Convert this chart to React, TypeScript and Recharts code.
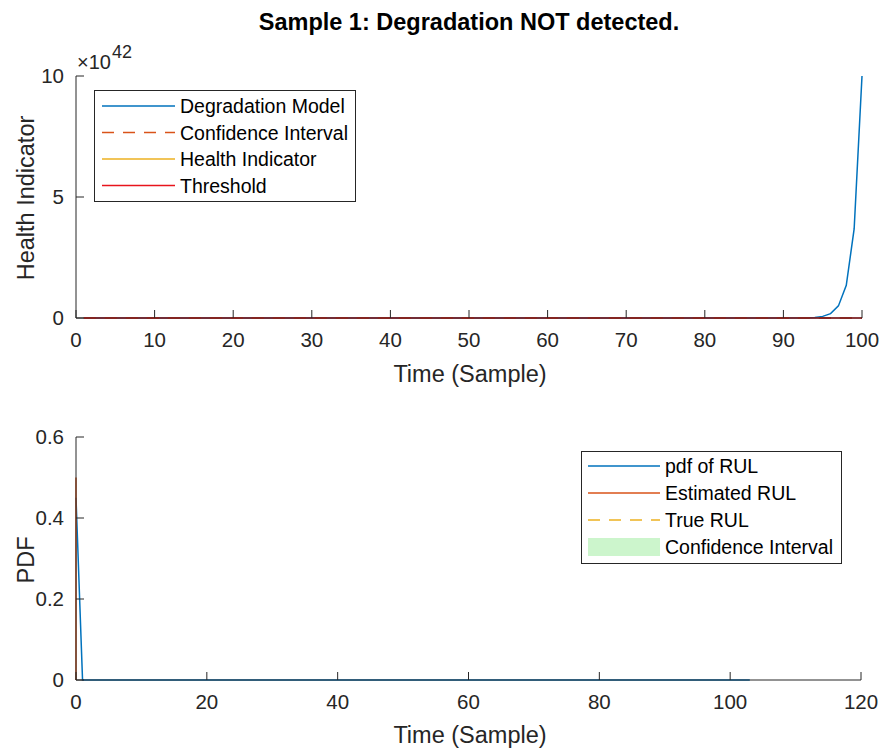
import React from "react";
import { LineChart, Line, XAxis, YAxis } from "recharts";

const titleText = "Sample 1: Degradation NOT detected.";

// top subplot, health indicator values in units of 1e42
const modelTime = [1, 90, 93, 94, 95, 96, 97, 98, 99, 100];
const modelValue = [0, 0, 0.01, 0.025, 0.067, 0.18, 0.5, 1.35, 3.68, 10];
const ciTime = [1, 100];
const ciUpper = [0, 0];
const ciLower = [0, 0];
const thresholdTime = [1, 100];
const thresholdValue = [0, 0];
const topXTicks = [0, 10, 20, 30, 40, 50, 60, 70, 80, 90, 100];
const topYTicks = [0, 5, 10];
const topLegend = ["Degradation Model", "Confidence Interval", "Health Indicator", "Threshold"];

// bottom subplot
const pdfTime = [0, 1, 103];
const pdfValue = [0.45, 0, 0];
const estRulTime = [0, 0];
const estRulValue = [0, 0.5];
const bottomXTicks = [0, 20, 40, 60, 80, 100, 120];
const bottomYTicks = [0, 0.2, 0.4, 0.6];
const bottomLegend = ["pdf of RUL", "Estimated RUL", "True RUL", "Confidence Interval"];

const BLUE = "#0072BD";
const ORANGE = "#D95319";
const YELLOW = "#EDB120";
const RED = "#E8141C";
const AXIS = "#262626";
const FONT = "'Liberation Sans', Arial, sans-serif";

const zip = (xs: number[], ys: number[]) => xs.map((x, i) => ({ x, y: ys[i] }));

const tickStyle = { fill: AXIS, fontSize: 20.5, fontFamily: FONT };

const App: React.FC = () => {
  return (
    <div style={{ position: "absolute", left: 0, top: 0, width: 886, height: 749, background: "#fff" }}>
      <div style={{ position: "absolute", left: 0, top: 0 }}>
        <LineChart width={886} height={400} margin={{ top: 76, right: 24, bottom: 81, left: 75 }}>
          <XAxis
            type="number"
            dataKey="x"
            domain={[0, 100]}
            ticks={topXTicks}
            height={1}
            tickSize={-8}
            tickMargin={22}
            stroke={AXIS}
            tick={tickStyle}
            interval={0}
          />
          <YAxis
            type="number"
            dataKey="y"
            domain={[0, 10]}
            ticks={topYTicks}
            width={1}
            tickSize={-8}
            tickMargin={20}
            stroke={AXIS}
            tick={tickStyle}
            interval={0}
          />
          <Line data={zip(modelTime, modelValue)} dataKey="y" stroke={BLUE} strokeWidth={1.5} dot={false} isAnimationActive={false} />
          <Line data={zip(ciTime, ciUpper)} dataKey="y" stroke={ORANGE} strokeWidth={1.5} strokeDasharray="12 9" dot={false} isAnimationActive={false} />
          <Line data={zip(ciTime, ciLower)} dataKey="y" stroke={ORANGE} strokeWidth={1.5} strokeDasharray="12 9" dot={false} isAnimationActive={false} />
          <Line data={zip(thresholdTime, thresholdValue)} dataKey="y" stroke={RED} strokeWidth={1.5} dot={false} isAnimationActive={false} />
        </LineChart>
      </div>
      <div style={{ position: "absolute", left: 0, top: 400 }}>
        <LineChart width={886} height={349} margin={{ top: 37, right: 25, bottom: 68, left: 75 }}>
          <XAxis
            type="number"
            dataKey="x"
            domain={[0, 120]}
            ticks={bottomXTicks}
            height={1}
            tickSize={-8}
            tickMargin={22}
            stroke={AXIS}
            tick={tickStyle}
            interval={0}
          />
          <YAxis
            type="number"
            dataKey="y"
            domain={[0, 0.6]}
            ticks={bottomYTicks}
            width={1}
            tickSize={-8}
            tickMargin={20}
            stroke={AXIS}
            tick={tickStyle}
            interval={0}
            tickFormatter={(v: number) => (v === 0 ? "0" : v.toFixed(1))}
          />
          <Line data={zip(pdfTime, pdfValue)} dataKey="y" stroke={BLUE} strokeWidth={1.5} dot={false} isAnimationActive={false} />
          <Line data={zip(estRulTime, estRulValue)} dataKey="y" stroke={ORANGE} strokeWidth={1.5} dot={false} isAnimationActive={false} />
        </LineChart>
      </div>
      <svg width={886} height={749} style={{ position: "absolute", left: 0, top: 0, pointerEvents: "none" }} fontFamily={FONT}>
        <text x={469} y={22} textAnchor="middle" dominantBaseline="central" fontSize={23.5} fontWeight="bold" fill="#000">
          {titleText}
        </text>
        <text x={77} y={69} fontSize={20} fill={AXIS}>×10</text>
        <text x={112} y={58} fontSize={18} fill={AXIS}>42</text>
        <text x={470} y={374} textAnchor="middle" dominantBaseline="central" fontSize={23.5} fill={AXIS}>Time (Sample)</text>
        <text x={470} y={735} textAnchor="middle" dominantBaseline="central" fontSize={23.5} fill={AXIS}>Time (Sample)</text>
        <text x={26} y={198} transform="rotate(-90, 26, 198)" textAnchor="middle" dominantBaseline="central" fontSize={23.5} fill={AXIS}>Health Indicator</text>
        <text x={26} y={560} transform="rotate(-90, 26, 560)" textAnchor="middle" dominantBaseline="central" fontSize={23.5} fill={AXIS}>PDF</text>

        {/* top legend */}
        <rect x={94.5} y={90.5} width={261} height={111} fill="#fff" stroke={AXIS} strokeWidth={1} />
        {topLegend.map((name, i) => {
          const y = 106 + i * 26.5;
          const color = [BLUE, ORANGE, YELLOW, RED][i];
          return (
            <g key={name}>
              <line x1={102} x2={175} y1={y} y2={y} stroke={color} strokeWidth={1.5} strokeDasharray={i === 1 ? "12 9" : undefined} />
              <text x={180} y={y} dominantBaseline="central" fontSize={19.5} fill="#000">{name}</text>
            </g>
          );
        })}

        {/* bottom legend */}
        <rect x={581.5} y={451.5} width={260} height={112} fill="#fff" stroke={AXIS} strokeWidth={1} />
        {bottomLegend.map((name, i) => {
          const y = 466 + i * 27;
          return (
            <g key={name}>
              {i === 3 ? (
                <rect x={588} y={y - 9} width={72} height={18} fill="#ccf5cc" />
              ) : (
                <line x1={588} x2={660} y1={y} y2={y} stroke={[BLUE, ORANGE, YELLOW][i]} strokeWidth={1.5} strokeDasharray={i === 2 ? "12 9" : undefined} />
              )}
              <text x={665} y={y} dominantBaseline="central" fontSize={19.5} fill="#000">{name}</text>
            </g>
          );
        })}
      </svg>
    </div>
  );
};

export default App;
